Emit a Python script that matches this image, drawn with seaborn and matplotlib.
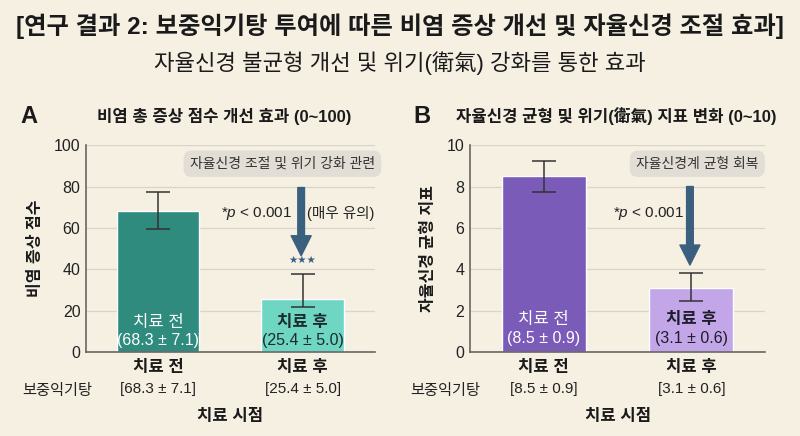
import numpy as np
import pandas as pd
import seaborn as sns
import matplotlib
matplotlib.use("Agg")
import matplotlib.pyplot as plt

# data
stages = ['치료 전', '치료 후']
symptom_mean = [68.3, 25.4]
symptom_sd = [7.1, 5.0]
symptom_lo = [59.5, 21.5]   # error bar ends as drawn
symptom_hi = [77.5, 37.5]
balance_mean = [8.5, 3.1]
balance_sd = [0.9, 0.6]
balance_lo = [7.75, 2.45]
balance_hi = [9.25, 3.8]

sns.set_theme(style="white")
plt.rcParams['font.family'] = ['Liberation Sans', 'Noto Sans CJK KR', 'DejaVu Sans']
plt.rcParams['axes.unicode_minus'] = False
plt.rcParams['mathtext.fontset'] = 'custom'
plt.rcParams['mathtext.it'] = 'Liberation Sans:italic'
plt.rcParams['mathtext.rm'] = 'Liberation Sans'

bg = '#f6f0e3'
fig = plt.figure(figsize=(8, 4.36), dpi=100, facecolor=bg)
axA = fig.add_axes([0.1075, 0.193, 0.361, 0.474])
axB = fig.add_axes([0.5875, 0.193, 0.369, 0.474])

fig.text(0.5, 0.94, '[연구 결과 2: 보중익기탕 투여에 따른 비염 증상 개선 및 자율신경 조절 효과]',
         ha='center', va='center', fontsize=17.5, fontweight='bold', color='#1a1a1a')
fig.text(0.5, 0.855, '자율신경 불균형 개선 및 위기(衛氣) 강화를 통한 효과',
         ha='center', va='center', fontsize=16, color='#1a1a1a')


def panel(ax, means, sds, lo, hi, colors, ymax, ylabel, letter, title, title_x,
          letter_x, inner_colors, txt_y, arrow, box_txt, box_xy, ptxt, extra=None, stars=None):
    df = pd.DataFrame({'stage': stages, 'value': means})
    ax.set_facecolor(bg)
    sns.barplot(data=df, x='stage', y='value', hue='stage', palette=colors,
                width=0.57, errorbar=None, legend=False, ax=ax, zorder=2,
                saturation=1)
    x = np.arange(len(means))
    yerr = [np.array(means) - np.array(lo), np.array(hi) - np.array(means)]
    ax.errorbar(x, means, yerr=yerr, fmt='none', ecolor='#333333',
                elinewidth=1.1, capsize=8.5, capthick=1.1, zorder=3)
    ax.set_xlim(-0.5, 1.5)
    ax.set_ylim(0, ymax)
    ax.set_yticks(np.linspace(0, ymax, 6))
    ax.yaxis.grid(True, color='#d9d4c9', linewidth=0.9, zorder=0)
    ax.set_axisbelow(True)
    for s in ['top', 'right']:
        ax.spines[s].set_visible(False)
    for s in ['left', 'bottom']:
        ax.spines[s].set_color('#666666')
        ax.spines[s].set_linewidth(1.2)
    ax.tick_params(axis='y', length=0, labelsize=11.5, pad=4, colors='#222222')
    ax.tick_params(axis='x', length=0, pad=6)
    ax.set_xticks(x)
    ax.set_xticklabels(stages, fontsize=12, fontweight='bold', color='#1a1a1a')
    ax.set_xlabel('치료 시점', fontsize=12, fontweight='bold', color='#1a1a1a', labelpad=24)
    ax.set_ylabel(ylabel, fontsize=11.5, fontweight='bold', color='#1a1a1a', labelpad=8)

    tr = ax.get_xaxis_transform()
    for i in x:
        ax.text(i, txt_y[0], stages[i], ha='center', va='center', fontsize=12,
                color=inner_colors[i], fontweight='bold' if i == 1 else 'normal', zorder=4)
        ax.text(i, txt_y[1], f'({means[i]} ± {sds[i]})', ha='center', va='center',
                fontsize=11.5, color=inner_colors[i], zorder=4)
        ax.text(i, -0.18, f'[{means[i]} ± {sds[i]}]', transform=tr, ha='center',
                va='center', fontsize=11, color='#222222')
    fig.text(letter_x[1], 0.1035, '보중익기탕', ha='center', va='center', fontsize=11,
             color='#222222')

    fig.text(letter_x[0], 0.733, letter, ha='center', va='center', fontsize=17,
             fontweight='bold', color='#1a1a1a')
    fig.text(title_x, 0.733, title, ha='center', va='center', fontsize=12,
             fontweight='bold', color='#1a1a1a')

    ax.text(box_xy[0], box_xy[1], box_txt, ha='center', va='center', fontsize=10,
            color='#333333', zorder=5,
            bbox=dict(boxstyle='round,pad=0.45,rounding_size=0.6', fc='#e2ded6',
                      ec='none'))
    ax.annotate('', xy=(arrow[0], arrow[2]), xytext=(arrow[0], arrow[1]),
                arrowprops=dict(arrowstyle='simple,head_width=1.2,head_length=1.2,tail_width=0.4',
                                color='#3b5f7e', shrinkA=0, shrinkB=0), zorder=5)
    ax.text(ptxt[0], ptxt[1], r'*$\it{p}$ < 0.001', ha='right', va='center',
            fontsize=11, color='#222222', zorder=5)
    if extra:
        ax.text(extra[0], extra[1], extra[2], ha='left', va='center', fontsize=10.5,
                color='#222222', zorder=5)
    if stars:
        ax.text(stars[0], stars[1], '★★★', ha='center', va='center', fontsize=7.5,
                color='#3b5f7e', family='DejaVu Sans', zorder=5)


panel(axA, symptom_mean, symptom_sd, symptom_lo, symptom_hi, ['#2e8b7e', '#6fd6c4'],
      100, '비염 증상 점수', 'A', '비염 총 증상 점수 개선 효과 (0~100)', 0.28,
      (0.036, 0.071), ['white', '#1d2b2b'], (14, 5.5), (0.99, 79.5, 46.5),
      '자율신경 조절 및 위기 강화 관련', (0.86, 91), (0.93, 67),
      extra=(1.03, 67, '(매우 유의)'), stars=(1.0, 44.5))
panel(axB, balance_mean, balance_sd, balance_lo, balance_hi, ['#7a5bb8', '#c2a6e8'],
      10, '자율신경 균형 지표', 'B', '자율신경 균형 및 위기(衛氣) 지표 변화 (0~10)', 0.77,
      (0.527, 0.556), ['white', '#1d1d2b'], (1.55, 0.63), (0.99, 8.0, 4.2),
      '자율신경계 균형 회복', (1.04, 9.1), (0.95, 6.7))

fig.savefig('out.png', dpi=100, facecolor=bg)
